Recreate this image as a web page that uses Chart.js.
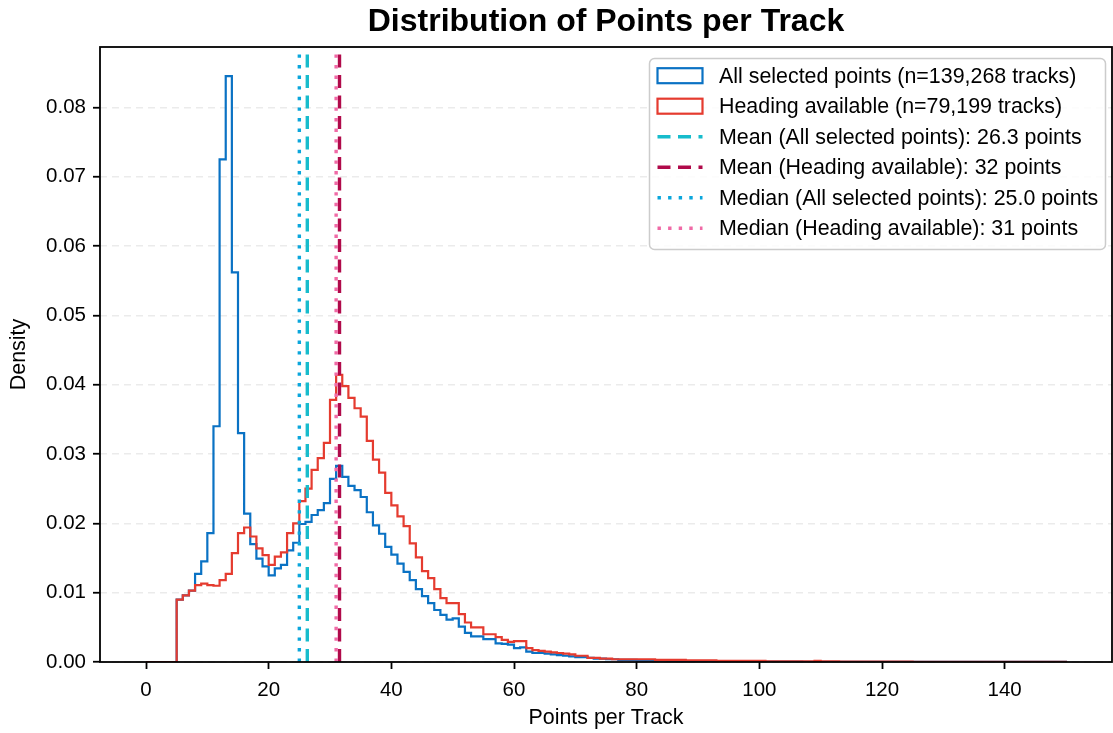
<!DOCTYPE html>
<html>
<head>
<meta charset="utf-8">
<title>Distribution of Points per Track</title>
<script src="https://cdn.jsdelivr.net/npm/chart.js@4.4.0/dist/chart.umd.min.js"></script>
<style>
  html, body { margin: 0; padding: 0; background: #fff; }
  #wrap { width: 1113px; height: 733px; }
</style>
</head>
<body>
<div id="wrap"><canvas id="histChart"></canvas></div>
<script>
// ====== data (density per 1-point bin, bins 0..149) ======
const binEdges = Array.from({length: 151}, (_, i) => i);

const allPointsDensity = [
  0, 0, 0, 0, 0, 0.0090, 0.0096, 0.0103, 0.0127, 0.0145,
  0.0186, 0.0340, 0.0725, 0.0845, 0.0562, 0.0330, 0.0214, 0.0170, 0.0149, 0.0138,
  0.0125, 0.0135, 0.0140, 0.0161, 0.0172, 0.0199, 0.0202, 0.0212, 0.0219, 0.0229,
  0.0264, 0.0283, 0.0267, 0.0254, 0.0248, 0.0238, 0.0216, 0.0197, 0.0185, 0.0166,
  0.0155, 0.0142, 0.0130, 0.0118, 0.0105, 0.0095, 0.0085, 0.0075, 0.0068, 0.0061,
  0.0063, 0.0051, 0.0042, 0.0037, 0.0037, 0.0033, 0.0033, 0.0027, 0.0026, 0.0025,
  0.0020, 0.0021, 0.0015, 0.0013, 0.0013, 0.0012, 0.0011, 0.0010, 0.0009, 0.0008,
  0.0007, 0.0007, 0.0006, 0.0005, 0.0005, 0.0004, 0.0004, 0.0003, 0.0003, 0.0003,
  0.0002, 0.0002, 0.0002, 0.0002, 0.0002, 0.00015, 0.00015, 0.00015, 0.00012, 0.00012,
  0.0001, 0.0001, 0.00009, 0.00009, 0.00008, 0.00008, 0.00007, 0.00007, 0.00006, 0.00006,
  0.00005, 0.00005, 0.00005, 0.00004, 0.00004, 0.00004, 0.00004, 0.00003, 0.00003, 0.00003,
  0.00003, 0.00003, 0.00002, 0.00002, 0.00002, 0.00002, 0.00002, 0.00002, 0.00002, 0.00002,
  0.00001, 0.00001, 0.00001, 0.00001, 0.00001, 0.00001, 0.00001, 0.00001, 0.00001, 0.00001,
  0.00001, 0.00001, 0.00001, 0.00001, 0.00001, 0.00001, 0.00001, 0.00001, 0.00001, 0.00001,
  0.00001, 0.00001, 0.00001, 0.00001, 0.00001, 0.00001, 0.00001, 0.00001, 0.00001, 0.00001
];

const headingDensity = [
  0, 0, 0, 0, 0, 0.0090, 0.0096, 0.0103, 0.0111, 0.0113,
  0.0111, 0.0110, 0.0118, 0.0127, 0.0157, 0.0186, 0.0194, 0.0181, 0.0164, 0.0154,
  0.0140, 0.0152, 0.0158, 0.0186, 0.0200, 0.0232, 0.0250, 0.0277, 0.0294, 0.0316,
  0.0378, 0.0414, 0.0398, 0.0381, 0.0366, 0.0354, 0.0319, 0.0292, 0.0273, 0.0244,
  0.0226, 0.0210, 0.0196, 0.0171, 0.0151, 0.0131, 0.0121, 0.0105, 0.0092, 0.0085,
  0.0085, 0.0069, 0.0057, 0.0050, 0.0050, 0.0040, 0.0040, 0.0036, 0.0032, 0.0029,
  0.0030, 0.0030, 0.0020, 0.0017, 0.0016, 0.0015, 0.0014, 0.0013, 0.0012, 0.0011,
  0.0009, 0.0009, 0.0006, 0.0006, 0.0005, 0.0005, 0.0004, 0.0004, 0.0004, 0.0004,
  0.0004, 0.0004, 0.0004, 0.0003, 0.0003, 0.0003, 0.0003, 0.0003, 0.00025, 0.00025,
  0.00025, 0.00025, 0.00025, 0.00015, 0.00015, 0.00015, 0.00015, 0.00015, 0.00015, 0.00015,
  0.00015, 0.0001, 0.0001, 0.0001, 0.0001, 0.0001, 0.0001, 0.0001, 0.0001, 0.00015,
  0.0001, 0.00008, 0.00008, 0.00006, 0.00006, 0.00006, 0.00005, 0.00005, 0.00005, 0.00005,
  0.00004, 0.00004, 0.00004, 0.00004, 0.00004, 0.00003, 0.00003, 0.00003, 0.00003, 0.00003,
  0.00003, 0.00003, 0.00002, 0.00002, 0.00002, 0.00002, 0.00002, 0.00002, 0.00002, 0.00002,
  0.00002, 0.00002, 0.00002, 0.00002, 0.00002, 0.00002, 0.00002, 0.00002, 0.00002, 0.00002
];

const seriesLabels = [
  "All selected points (n=139,268 tracks)",
  "Heading available (n=79,199 tracks)"
];

// mean / median markers
const statLabels = [
  "Mean (All selected points): 26.3 points",
  "Mean (Heading available): 32 points",
  "Median (All selected points): 25.0 points",
  "Median (Heading available): 31 points"
];
const statValues = [26.3, 31.55, 25.0, 31];

const xTicks = [0, 20, 40, 60, 80, 100, 120, 140];
const yTicks = [0, 0.01, 0.02, 0.03, 0.04, 0.05, 0.06, 0.07, 0.08];
const X_MIN = -7.5, X_MAX = 157.5;
const Y_MAX = 0.0887;

const FONT = '"Liberation Sans", Arial, Helvetica, sans-serif';

// ====== helpers ======
// matplotlib "step" outline: up from 0 at the first edge, back to 0 at the last edge
function stepPoints(values) {
  const pts = [{x: binEdges[0], y: 0}];
  values.forEach((v, i) => pts.push({x: binEdges[i], y: v}));
  const n = values.length;
  pts.push({x: binEdges[n], y: values[n - 1]});
  pts.push({x: binEdges[n], y: 0});
  return pts;
}

const vline = v => [{x: v, y: 0}, {x: v, y: Y_MAX}];

const DASHED = [13, 7.5];
const DOTTED = [3.4, 7.2];

// ====== frame + in-axes legend ======
const frameLegend = {
  id: "frameLegend",
  afterDatasetsDraw(chart) {
    const {ctx, chartArea: a} = chart;
    ctx.save();
    ctx.strokeStyle = "#000";
    ctx.lineWidth = 1.8;
    ctx.strokeRect(a.left, a.top, a.right - a.left, a.bottom - a.top);
    ctx.restore();
  },
  afterDraw(chart) {
    const {ctx, chartArea: a} = chart;
    const items = chart.data.datasets;
    const w = 456, h = 191, rowH = 30.5;
    const x0 = a.right - 6.5 - w, y0 = a.top + 11.5;

    ctx.save();
    // rounded box
    const r = 5;
    ctx.beginPath();
    ctx.moveTo(x0 + r, y0);
    ctx.lineTo(x0 + w - r, y0);
    ctx.arcTo(x0 + w, y0, x0 + w, y0 + r, r);
    ctx.lineTo(x0 + w, y0 + h - r);
    ctx.arcTo(x0 + w, y0 + h, x0 + w - r, y0 + h, r);
    ctx.lineTo(x0 + r, y0 + h);
    ctx.arcTo(x0, y0 + h, x0, y0 + h - r, r);
    ctx.lineTo(x0, y0 + r);
    ctx.arcTo(x0, y0, x0 + r, y0, r);
    ctx.closePath();
    ctx.fillStyle = "rgba(255,255,255,0.85)";
    ctx.fill();
    ctx.strokeStyle = "#cccccc";
    ctx.lineWidth = 1.5;
    ctx.stroke();

    ctx.font = "21.4px " + FONT;
    ctx.textBaseline = "middle";
    ctx.textAlign = "left";
    items.forEach((ds, i) => {
      const cy = y0 + 17.2 + i * rowH;
      const hx = x0 + 8, hw = 45;
      ctx.strokeStyle = ds.borderColor;
      if (ds.legendShape === "box") {
        ctx.setLineDash([]);
        ctx.lineWidth = 2.2;
        ctx.fillStyle = "#fff";
        ctx.fillRect(hx, cy - 7.5, hw, 15);
        ctx.strokeRect(hx, cy - 7.5, hw, 15);
      } else {
        ctx.setLineDash(ds.borderDash || []);
        ctx.lineWidth = ds.borderWidth;
        ctx.beginPath();
        ctx.moveTo(hx, cy);
        ctx.lineTo(hx + hw, cy);
        ctx.stroke();
      }
      ctx.setLineDash([]);
      ctx.fillStyle = "#000";
      ctx.fillText(ds.label, x0 + 69.5, cy + 1);
    });
    ctx.restore();
  }
};

// ====== chart ======
const datasets = [
  {label: seriesLabels[0], data: stepPoints(allPointsDensity), borderColor: "#0a72c4", borderWidth: 2.2, stepped: true, legendShape: "box", order: 6},
  {label: seriesLabels[1], data: stepPoints(headingDensity),   borderColor: "#e53b2f", borderWidth: 2.2, stepped: true, legendShape: "box", order: 5},
  {label: statLabels[0], data: vline(statValues[0]), borderColor: "#17bccc", borderWidth: 3.4, borderDash: DASHED, legendShape: "line", order: 4},
  {label: statLabels[1], data: vline(statValues[1]), borderColor: "#b00a4a", borderWidth: 3.4, borderDash: DASHED, legendShape: "line", order: 3},
  {label: statLabels[2], data: vline(statValues[2]), borderColor: "#0aa6dc", borderWidth: 3.4, borderDash: DOTTED, legendShape: "line", order: 2},
  {label: statLabels[3], data: vline(statValues[3]), borderColor: "#f06aa6", borderWidth: 3.4, borderDash: DOTTED, legendShape: "line", order: 1}
];
datasets.forEach(d => { d.pointRadius = 0; d.fill = false; d.borderCapStyle = "butt"; });

new Chart(document.getElementById("histChart").getContext("2d"), {
  type: "line",
  data: {datasets},
  plugins: [frameLegend],
  options: {
    responsive: true,
    maintainAspectRatio: false,
    animation: false,
    events: [],
    layout: {padding: {left: 0, right: 1, top: 0, bottom: 0}},
    plugins: {
      legend: {display: false},
      tooltip: {enabled: false},
      title: {
        display: true,
        fullSize: false,
        text: "Distribution of Points per Track",
        color: "#000",
        font: {family: FONT, size: 32, weight: "bold"},
        padding: {top: 3, bottom: 5.6}
      }
    },
    scales: {
      x: {
        type: "linear",
        min: X_MIN, max: X_MAX,
        afterBuildTicks: s => { s.ticks = xTicks.map(v => ({value: v})); },
        afterFit: s => { s.height = 71; },
        ticks: {color: "#000", font: {family: FONT, size: 20.5}, padding: 9.5, maxRotation: 0, autoSkip: false, callback: v => String(v)},
        grid: {drawOnChartArea: false, drawTicks: true, tickLength: 7, tickColor: "#000", tickWidth: 1.8},
        border: {display: false},
        title: {display: true, text: "Points per Track", color: "#000", font: {family: FONT, size: 21.4}, padding: {top: 0, bottom: 2.4}}
      },
      y: {
        min: 0, max: Y_MAX,
        afterBuildTicks: s => { s.ticks = yTicks.map(v => ({value: v})); },
        afterFit: s => { s.width = 100; },
        ticks: {color: "#000", font: {family: FONT, size: 20.5}, padding: 7, callback: v => v.toFixed(2)},
        grid: {color: "#ebebeb", lineWidth: 1.5, tickLength: 7, tickColor: "#000", tickWidth: 1.8},
        border: {display: false, dash: [7, 5]},
        title: {display: true, text: "Density", color: "#000", font: {family: FONT, size: 21.4}, padding: {top: 6, bottom: 0}}
      }
    }
  }
});
</script>
</body>
</html>
